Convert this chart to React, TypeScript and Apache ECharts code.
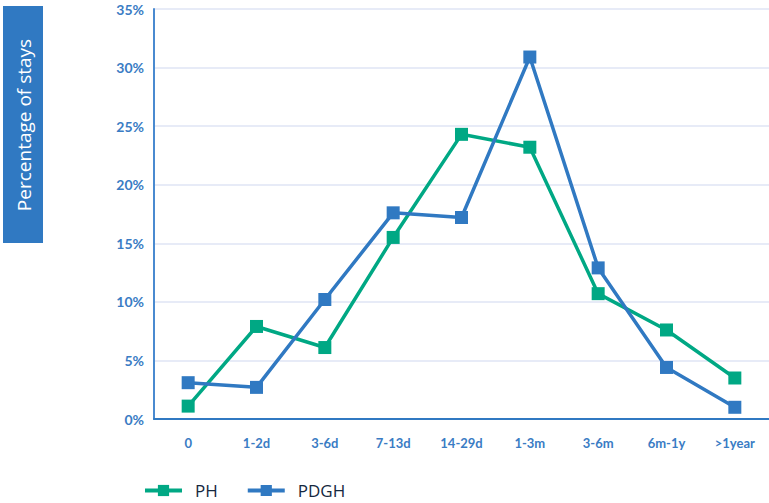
import React, { useEffect, useRef } from "react";
import * as echarts from "echarts";

const categories = ["0", "1-2d", "3-6d", "7-13d", "14-29d", "1-3m", "3-6m", "6m-1y", ">1year"];
const phValues = [1.1, 7.9, 6.1, 15.5, 24.3, 23.2, 10.7, 7.6, 3.5];
const pdghValues = [3.1, 2.7, 10.2, 17.6, 17.2, 30.9, 12.9, 4.4, 1.0];
const yTicks = [0, 5, 10, 15, 20, 25, 30, 35];

const GREEN = "#00a884";
const BLUE = "#3079c2";
const LABEL = "#3a7cc4";

export default function App() {
  const ref = useRef<HTMLDivElement>(null);
  useEffect(() => {
    if (!ref.current) return;
    const chart = echarts.init(ref.current, undefined, { renderer: "svg" });
    const font = "Lato, 'Noto Sans', sans-serif";
    chart.setOption({
      animation: false,
      textStyle: { fontFamily: font },
      grid: { left: 154, top: 9, width: 620, height: 410, containLabel: false },
      xAxis: {
        type: "category",
        data: categories,
        boundaryGap: true,
        axisLine: { lineStyle: { color: BLUE, width: 2 } },
        axisTick: { show: false },
        axisLabel: { color: LABEL, fontWeight: "bold", fontSize: 13, margin: 17, fontFamily: font },
      },
      yAxis: {
        type: "value",
        min: 0,
        max: 35,
        interval: 5,
        axisLine: { show: true, lineStyle: { color: "#4a8ad0", width: 2 } },
        axisTick: { show: false },
        splitLine: { lineStyle: { color: "#dfe5f4", width: 1.5 } },
        axisLabel: {
          color: LABEL,
          fontWeight: "bold",
          fontSize: 14,
          margin: 10,
          padding: [12, 0, 0, 0],
          fontFamily: font,
          formatter: (v: number) => (yTicks.includes(v) ? v + "%" : ""),
        },
      },
      legend: {
        left: 138,
        top: 477,
        itemWidth: 37,
        itemHeight: 14,
        itemGap: 28,
        lineStyle: { width: 4 },
        textStyle: { color: "#15283f", fontSize: 17, fontFamily: "'Open Sans', sans-serif", padding: [0, 0, 0, 8] },
        data: ["PH", "PDGH"],
      },
      graphic: [
        { type: "rect", left: 3, top: 6, shape: { width: 40, height: 237 }, style: { fill: "#3079c2" } },
        {
          type: "text",
          x: 24,
          y: 125,
          rotation: Math.PI / 2,
          style: {
            text: "Percentage of stays",
            fill: "#ffffff",
            fontSize: 19,
            fontFamily: "'Open Sans', sans-serif",
            align: "center",
            verticalAlign: "middle",
          },
        },
      ],
      series: [
        {
          name: "PH",
          type: "line",
          data: phValues,
          symbol: "rect",
          symbolSize: 13,
          lineStyle: { color: GREEN, width: 3.5 },
          itemStyle: { color: GREEN },
        },
        {
          name: "PDGH",
          type: "line",
          data: pdghValues,
          symbol: "rect",
          symbolSize: 13,
          lineStyle: { color: BLUE, width: 3.5 },
          itemStyle: { color: BLUE },
        },
      ],
    });
    return () => chart.dispose();
  }, []);
  return <div ref={ref} style={{ width: 769, height: 503, position: "absolute", left: 0, top: 0 }} />;
}
